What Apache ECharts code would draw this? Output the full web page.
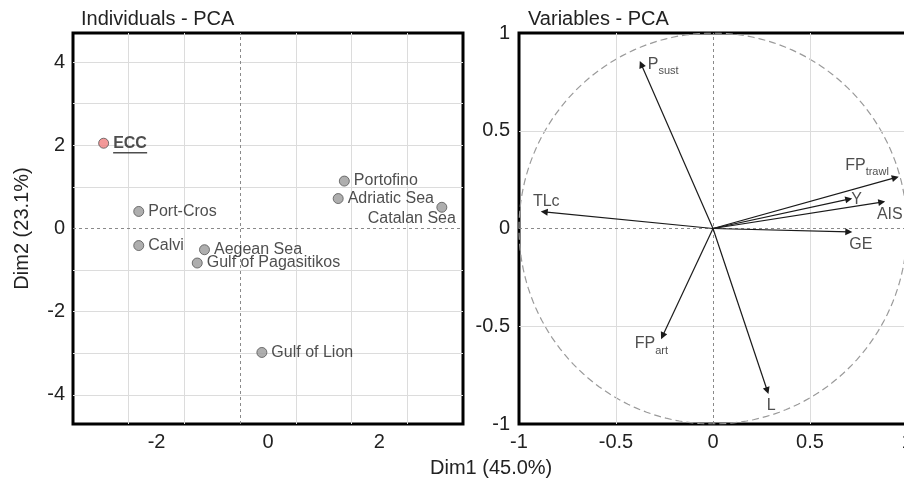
<!DOCTYPE html>
<html>
<head>
<meta charset="utf-8">
<script src="https://cdn.jsdelivr.net/npm/echarts@6/dist/echarts.min.js"></script>
<style>html,body{margin:0;padding:0;background:#fff;}#c{width:904px;height:479px;}</style>
</head>
<body>
<div id="c"></div>
<script>
// ---- data ----
const individuals = ['ECC','Port-Cros','Calvi','Aegean Sea','Gulf of Pagasitikos','Gulf of Lion','Portofino','Adriatic Sea','Catalan Sea'];
const indDim1 = [-2.95,-2.32,-2.32,-1.14,-1.27,-0.11,1.37,1.26,3.12];
const indDim2 = [2.05,0.41,-0.41,-0.51,-0.83,-2.98,1.14,0.72,0.51];

const variables = ['P_sust','TLc','FP_trawl','Y','AIS','GE','FP_art','L'];
const varDim1 = [-0.37,-0.87,0.94,0.70,0.87,0.70,-0.26,0.28];
const varDim2 = [0.84,0.085,0.26,0.15,0.135,-0.017,-0.55,-0.83];

const leftXLabels = [-2,0,2];
const leftXGrid = [-2.5,-1.5,0.5,1.5,2.5];
const leftXZero = -0.5;
const leftYLabels = [-4,-2,0,2,4];
const leftYGrid = [-4,-3,-2,-1,1,2,3,4];
const rightLabels = [-1,-0.5,0,0.5,1];
const rightGrid = [-0.5,0.5];

// ---- styles (label placement) ----
const indLabelStyle = {
  'Catalan Sea': {position:'bottom', offset:[-30,-6]}
};
const varLabelText = {
  'P_sust':'{m|P}{s|sust}', 'TLc':'{m|TLc}', 'FP_trawl':'{m|FP}{s|trawl}', 'Y':'{m|Y}',
  'AIS':'{m|AIS}', 'GE':'{m|GE}', 'FP_art':'{m|FP}{s|art}', 'L':'{m|L}'
};
const varLabelStyle = {
  'P_sust': {position:'right', distance:6, offset:[0,-2]},
  'TLc': {position:'top', distance:2, offset:[2,0]},
  'FP_trawl': {position:'left', distance:6, offset:[0,-14]},
  'Y': {position:'right', distance:2, offset:[0,-2]},
  'AIS': {position:'bottom', distance:0, offset:[8,0]},
  'GE': {position:'bottom', distance:0, offset:[12,0]},
  'FP_art': {position:'left', distance:0, offset:[6,6]},
  'L': {position:'bottom', distance:2, offset:[4,0]}
};

const font = 'Liberation Sans, Arial, sans-serif';
const txt = '#222';
const richSub = {
  m: {fontSize:16, color:txt, fontFamily:font, lineHeight:20, verticalAlign:'bottom'},
  s: {fontSize:11, color:txt, fontFamily:font, lineHeight:20, verticalAlign:'bottom', padding:[0,0,-4,0]}
};

const indData = individuals.map((n,i)=>{
  const d = {name:n, value:[indDim1[i], indDim2[i]]};
  if (n === 'ECC') {
    d.itemStyle = {color:'#f07f80'};
    d.label = {formatter:'{b|ECC}\n{u|}', rich:{
      b:{fontWeight:'bold', fontSize:16, color:txt, lineHeight:17, fontFamily:font},
      u:{width:34, height:1.5, backgroundColor:'#222', lineHeight:2}
    }, offset:[0,1]};
  } else if (indLabelStyle[n]) {
    d.label = indLabelStyle[n];
  }
  return d;
});

const varData = variables.map((n,i)=>({name:n, value:[varDim1[i], varDim2[i]],
  label: Object.assign({show:true, formatter: varLabelText[n], rich: richSub}, varLabelStyle[n])}));

const arrowData = variables.map((n,i)=>({coords:[[0,0],[varDim1[i], varDim2[i]]]}));

const circle = [];
for (let a = 0; a <= 360; a += 2) {
  const r = a * Math.PI / 180;
  circle.push([Math.cos(r), Math.sin(r)]);
}

const gridStyle = {color:'#dcdcdc', width:1, type:'solid'};
const zeroLine = {color:'#8a8a8a', type:[3,3], width:1};
const mlGrid = (xs, ys) => ({silent:true, symbol:'none', label:{show:false}, lineStyle:gridStyle,
  emphasis:{disabled:true}, data: xs.map(v=>({xAxis:v})).concat(ys.map(v=>({yAxis:v})))});
const mlZero = (x, y) => ({silent:true, symbol:'none', label:{show:false}, lineStyle:zeroLine,
  emphasis:{disabled:true}, data:[{xAxis:x},{yAxis:y}]});

const axisLbl = {fontSize:20, color:txt, fontFamily:font};

const chart = echarts.init(document.getElementById('c'), null, {renderer:'canvas'});
chart.setOption({
  animation:false,
  backgroundColor:'#fff',
  textStyle:{fontFamily:font},
  title:[
    {text:'Individuals - PCA', left:81, top:9, padding:0, textStyle:{fontSize:20, fontWeight:'normal', color:txt, fontFamily:font}},
    {text:'Variables - PCA', left:528, top:9, padding:0, textStyle:{fontSize:20, fontWeight:'normal', color:txt, fontFamily:font}},
    {text:'Dim1 (45.0%)', left:430, top:458, padding:0, textStyle:{fontSize:20, fontWeight:'normal', color:txt, fontFamily:font}}
  ],
  grid:[
    {left:73, top:33, width:390, height:391, show:true, borderColor:'#000', borderWidth:3, backgroundColor:'transparent', outerBoundsMode:'none', containLabel:false},
    {left:519, top:33, width:388, height:391, show:true, borderColor:'#000', borderWidth:3, backgroundColor:'transparent', outerBoundsMode:'none', containLabel:false}
  ],
  xAxis:[
    {gridIndex:0, type:'value', min:-3.5, max:3.5, axisLine:{show:false}, axisTick:{show:false},
     axisLabel:Object.assign({customValues:leftXLabels, margin:8}, axisLbl),
     splitLine:{show:false}},
    {gridIndex:1, type:'value', min:-1, max:1, interval:0.5, axisLine:{show:false}, axisTick:{show:false},
     axisLabel:Object.assign({customValues:rightLabels, margin:8, showMaxLabel:true, showMinLabel:true}, axisLbl),
     splitLine:{show:false}}
  ],
  yAxis:[
    {gridIndex:0, type:'value', min:-4.7, max:4.7, axisLine:{show:false}, axisTick:{show:false},
     axisLabel:Object.assign({customValues:leftYLabels, margin:8}, axisLbl),
     splitLine:{show:false},
     name:'Dim2 (23.1%)', nameLocation:'middle', nameGap:41,
     nameTextStyle:{fontSize:20, color:txt, fontFamily:font}},
    {gridIndex:1, type:'value', min:-1, max:1, interval:0.5, axisLine:{show:false}, axisTick:{show:false},
     axisLabel:Object.assign({customValues:rightLabels, margin:9, showMaxLabel:true, showMinLabel:true}, axisLbl),
     splitLine:{show:false}}
  ],
  series:[
    {type:'line', xAxisIndex:0, yAxisIndex:0, data:[], symbol:'none', silent:true, z:1,
     markLine: mlGrid(leftXGrid, leftYGrid)},
    {type:'line', xAxisIndex:0, yAxisIndex:0, data:[], symbol:'none', silent:true, z:2,
     markLine: mlZero(leftXZero, 0)},
    {type:'scatter', xAxisIndex:0, yAxisIndex:0, data:indData, symbolSize:10,
     itemStyle:{color:'#9a9a9a', borderColor:'#555', borderWidth:1},
     label:{show:true, position:'right', distance:4, fontSize:16, color:txt, fontFamily:font, formatter:'{b}'},
     z:5},
    {type:'line', xAxisIndex:1, yAxisIndex:1, data:[], symbol:'none', silent:true, z:1,
     markLine: mlGrid(rightGrid, rightGrid)},
    {type:'line', xAxisIndex:1, yAxisIndex:1, data:circle, symbol:'none', smooth:false,
     lineStyle:{color:'#9a9a9a', width:1.2, type:[7,4]}, silent:true, z:2,
     markLine: mlZero(0, 0)},
    {type:'lines', coordinateSystem:'cartesian2d', xAxisIndex:1, yAxisIndex:1, data:arrowData,
     symbol:['none','triangle'], symbolSize:[1,7],
     lineStyle:{color:'#1a1a1a', width:1.2, opacity:1}, z:5},
    {type:'scatter', xAxisIndex:1, yAxisIndex:1, data:varData, symbol:'circle', symbolSize:1,
     itemStyle:{color:'rgba(0,0,0,0)'}, z:6}
  ]
});
</script>
</body>
</html>
